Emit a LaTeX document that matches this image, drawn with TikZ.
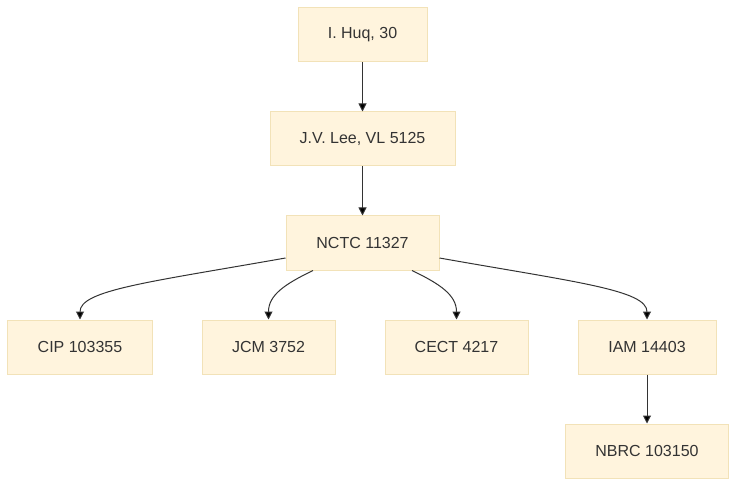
\documentclass[tikz,border=0pt]{standalone}
\usepackage{fontspec}
\setmainfont{Liberation Sans}
\usetikzlibrary{arrows.meta}
\definecolor{boxfill}{HTML}{FFF4DD}
\definecolor{boxline}{HTML}{F2E2B8}
\definecolor{txt}{HTML}{333333}
\begin{document}
\begin{tikzpicture}[x=1bp,y=-1bp,
  box/.style={draw=boxline,fill=boxfill,line width=1bp,text=txt,minimum height=54bp,inner sep=0pt,font=\fontsize{16bp}{19bp}\selectfont},
  edge/.style={draw=txt,line width=1bp,-{Triangle[length=8bp,width=8bp,fill=black]}}]
\useasboundingbox[fill=white] (0,0) rectangle (737,486);
\node[box,minimum width=129bp] (huq) at (362.5,35) {I. Huq, 30};
\node[box,minimum width=185bp] (lee) at (362.5,139) {J.V. Lee, VL 5125};
\node[box,minimum width=153bp] (nctc) at (362.5,243) {NCTC 11327};
\node[box,minimum width=144bp] (cip) at (80,347) {CIP 103355};
\node[box,minimum width=133bp] (jcm) at (268.5,347) {JCM 3752};
\node[box,minimum width=143bp] (cect) at (456.5,347) {CECT 4217};
\node[box,minimum width=138bp] (iam) at (647,347) {IAM 14403};
\node[box,minimum width=163bp] (nbrc) at (647,451) {NBRC 103150};
\draw[edge] (huq) -- (lee);
\draw[edge] (lee) -- (nctc);
\draw[edge] ([yshift=-15bp]nctc.west) .. controls (150,282) and (80,290) .. (cip.north);
\draw[edge] ([xshift=-49.5bp]nctc.south) .. controls (285,284) and (268.5,295) .. (jcm.north);
\draw[edge] ([xshift=49.5bp]nctc.south) .. controls (440,284) and (456.5,295) .. (cect.north);
\draw[edge] ([yshift=-15bp]nctc.east) .. controls (575,282) and (647,290) .. (iam.north);
\draw[edge] (iam) -- (nbrc);
\end{tikzpicture}
\end{document}
